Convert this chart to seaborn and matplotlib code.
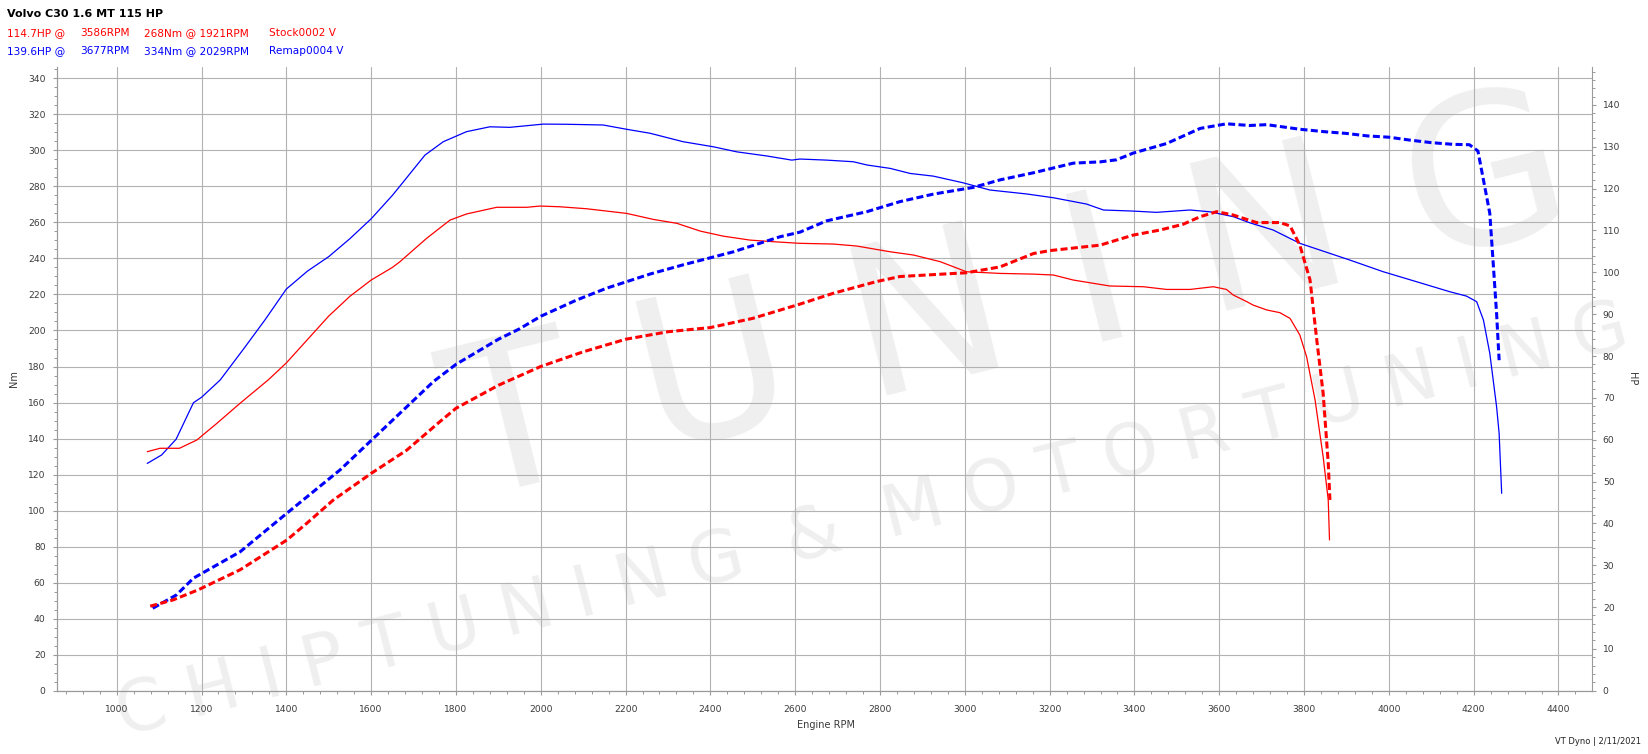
import matplotlib
matplotlib.use("Agg")
import matplotlib.pyplot as plt
import seaborn as sns
import pandas as pd
from matplotlib.ticker import MultipleLocator

# ---------------- data ----------------
stock_tq_rpm = [1072, 1102, 1148, 1189, 1236, 1291, 1357, 1400, 1450, 1500, 1550, 1600, 1650, 1668,
                1731, 1786, 1825, 1896, 1967, 1998, 2045, 2108, 2203, 2265, 2321, 2376, 2430, 2493,
                2548, 2611, 2690, 2745, 2824, 2879, 2942, 3004, 3083, 3162, 3209, 3256, 3342, 3421,
                3476, 3531, 3586, 3617, 3633, 3665, 3680, 3712, 3743, 3767, 3790, 3806, 3826, 3845,
                3857, 3860]
stock_tq_nm = [132.7, 134.6, 134.6, 139.2, 148.4, 159.6, 172.5, 182, 195, 208, 219, 228, 235, 238.2,
               251.2, 261.3, 264.7, 268.4, 268.4, 269.1, 268.7, 267.6, 265.0, 261.7, 259.5, 255.2, 252.4, 250.2,
               249.3, 248.4, 248.0, 246.9, 243.7, 241.9, 238.2, 232.6, 231.7, 231.3, 230.8, 228.0, 224.7, 224.3,
               222.8, 222.8, 224.3, 222.8, 219.7, 216.0, 214.1, 211.4, 209.9, 206.7, 197.5, 185.4, 161.4, 129.9,
               105.9, 83.7]

remap_tq_rpm = [1072, 1106, 1140, 1181, 1200, 1244, 1300, 1350, 1400, 1450, 1500, 1550, 1600, 1650,
                1668, 1727, 1770, 1825, 1880, 1927, 2006, 2061, 2147, 2203, 2258, 2336, 2407, 2462,
                2533, 2592, 2611, 2674, 2737, 2769, 2824, 2871, 2926, 2996, 3059, 3146, 3209, 3287,
                3327, 3397, 3452, 3531, 3578, 3633, 3672, 3727, 3790, 3908, 3987, 4065, 4144, 4183,
                4207, 4223, 4238, 4254, 4260, 4266]
remap_tq_nm = [126.2, 130.9, 139.6, 159.9, 162.9, 172.5, 190, 206, 223, 233, 241, 251, 262, 275,
               280.2, 297.4, 304.8, 310.4, 313.1, 312.8, 314.6, 314.5, 314.1, 311.7, 309.5, 304.8, 302.0, 299.2,
               296.9, 294.6, 295.2, 294.6, 293.7, 291.9, 290.0, 287.2, 285.7, 282.0, 278.0, 275.8, 273.7, 270.2,
               266.9, 266.3, 265.6, 266.9, 265.9, 263.2, 259.8, 255.8, 248.4, 239.1, 232.6, 227.1, 221.5, 219.1,
               216.0, 205.8, 187.3, 157.7, 142.9, 109.6]

stock_hp_rpm = [1079, 1133, 1192, 1291, 1401, 1448, 1511, 1601, 1684, 1762, 1800, 1900, 2000, 2100,
                2200, 2300, 2400, 2500, 2611, 2690, 2792, 2847, 3004, 3083, 3162, 3201, 3319, 3397,
                3460, 3515, 3555, 3594, 3633, 3688, 3743, 3767, 3790, 3814, 3830, 3845, 3857, 3861]
stock_hp = [20.2, 21.7, 24.1, 28.9, 36.0, 40.0, 45.6, 52.0, 57.5, 64.3, 67.5, 73.0, 77.5, 81.0,
            84.0, 85.8, 86.8, 89.0, 92.4, 95.0, 97.8, 99.0, 99.9, 101.3, 104.5, 105.2, 106.5, 108.9,
            110.1, 111.5, 113.3, 114.5, 113.7, 111.9, 111.9, 111.1, 106.5, 98.2, 83.8, 71.1, 54.4, 45.6]

remap_hp_rpm = [1085, 1141, 1181, 1291, 1401, 1527, 1601, 1747, 1800, 1850, 1900, 1950, 2000, 2085,
                2155, 2258, 2336, 2454, 2564, 2611, 2674, 2769, 2847, 2926, 3020, 3083, 3162, 3256,
                3319, 3358, 3397, 3476, 3555, 3617, 3672, 3712, 3790, 3850, 3900, 3950, 4000, 4050,
                4100, 4150, 4190, 4210, 4223, 4238, 4246, 4254, 4260]
remap_hp = [19.7, 22.9, 26.9, 33.2, 42.4, 52.8, 59.9, 73.9, 78.0, 81.0, 84.0, 86.5, 89.5, 93.4,
            96.2, 99.6, 101.8, 104.9, 108.5, 109.6, 112.3, 114.5, 116.9, 118.7, 120.3, 122.1, 123.8, 126.1,
            126.4, 126.9, 128.5, 130.8, 134.4, 135.5, 135.1, 135.3, 134.2, 133.6, 133.2, 132.6, 132.3, 131.6,
            131.0, 130.6, 130.5, 129.0, 122.1, 114.1, 102.2, 90.2, 79.0]

title = "Volvo C30 1.6 MT 115 HP"
stock_info = ["114.7HP @", "3586RPM", "268Nm @ 1921RPM", "Stock0002 V"]
remap_info = ["139.6HP @", "3677RPM", "334Nm @ 2029RPM", "Remap0004 V"]
x_ticks = list(range(1000, 4401, 200))
nm_ticks = list(range(0, 341, 20))
hp_ticks = list(range(0, 141, 10))

# ---------------- styling ----------------
sns.set_theme(style="white")
plt.rcParams['font.family'] = ['DejaVu Sans']

W, H = 1648, 754
fig = plt.figure(figsize=(W / 100, H / 100), dpi=100)
fig.patch.set_facecolor('white')
L, R, B, T = 56.7, 1591.7, 690.7, 67.0
ax = fig.add_axes([L / W, 1 - B / H, (R - L) / W, (B - T) / H])
ax2 = ax.twinx()

RED, BLUE = '#ff0000', '#0000ff'
GRID = '#b2b2b2'
SPINE = '#9a9a9a'
TXT = '#3a3a3a'

# watermark (very light)
wm = '#efefef'
ax.text(1010 / W, 1 - 305 / H, "T U N I N G", transform=fig.transFigure, fontsize=150,
        fontweight='normal', color=wm, rotation=14, ha='center', va='center', zorder=0.1)
ax.text(872 / W, 1 - 522 / H, "C H I P T U N I N G  &  M O T O R T U N I N G", transform=fig.transFigure,
        fontsize=51, color=wm, rotation=14.5, ha='center', va='center', zorder=0.1)

df_st = pd.DataFrame({'rpm': stock_tq_rpm, 'val': stock_tq_nm})
df_rt = pd.DataFrame({'rpm': remap_tq_rpm, 'val': remap_tq_nm})
df_sh = pd.DataFrame({'rpm': stock_hp_rpm, 'val': stock_hp})
df_rh = pd.DataFrame({'rpm': remap_hp_rpm, 'val': remap_hp})

sns.lineplot(data=df_rt, x='rpm', y='val', ax=ax, color=BLUE, linewidth=0.9,
             estimator=None, sort=False, legend=False, zorder=3)
sns.lineplot(data=df_st, x='rpm', y='val', ax=ax, color=RED, linewidth=0.9,
             estimator=None, sort=False, legend=False, zorder=3)
sns.lineplot(data=df_rh, x='rpm', y='val', ax=ax2, color=BLUE, linewidth=2.2,
             estimator=None, sort=False, legend=False, zorder=3)
sns.lineplot(data=df_sh, x='rpm', y='val', ax=ax2, color=RED, linewidth=2.2,
             estimator=None, sort=False, legend=False, zorder=3)
for ln in ax2.get_lines():
    ln.set_dashes((2.3, 1.1))

ax.set_xlim(858.5, 4478.3)
ax.set_ylim(0, 346.3)
ax2.set_ylim(0, 149.08)

ax.set_xticks(x_ticks)
ax.set_xticklabels([str(v) for v in x_ticks])
ax.xaxis.set_minor_locator(MultipleLocator(40))
ax.set_yticks(nm_ticks)
ax.set_yticklabels([str(v) for v in nm_ticks])
ax.yaxis.set_minor_locator(MultipleLocator(5))
ax2.set_yticks(hp_ticks)
ax2.set_yticklabels([str(v) for v in hp_ticks])
ax2.yaxis.set_minor_locator(MultipleLocator(2))

ax.set_axisbelow(True)
ax.grid(True, which='major', color=GRID, linewidth=0.8)
ax2.grid(False)
ax.set_xlabel("")
ax.set_ylabel("")
ax2.set_ylabel("")

for a in (ax, ax2):
    for s in a.spines.values():
        s.set_color(SPINE)
        s.set_linewidth(0.8)
ax.spines['top'].set_visible(False)
ax2.spines['top'].set_visible(False)
ax.spines['right'].set_visible(False)

ax.tick_params(axis='x', which='major', direction='out', length=3, width=0.8, color=SPINE,
               labelsize=6.6, labelcolor=TXT, pad=7, bottom=True)
ax.tick_params(axis='x', which='minor', direction='out', length=2, width=0.7, color=SPINE, bottom=True)
ax.tick_params(axis='y', which='major', direction='out', length=3, width=0.8, color=SPINE,
               labelsize=6.6, labelcolor=TXT, pad=5, left=True)
ax.tick_params(axis='y', which='minor', direction='out', length=2, width=0.7, color=SPINE, left=True)
ax2.tick_params(axis='y', which='major', direction='out', length=3, width=0.8, color=SPINE,
                labelsize=6.6, labelcolor=TXT, pad=5, right=True)
ax2.tick_params(axis='y', which='minor', direction='out', length=2, width=0.7, color=SPINE, right=True)

# axis titles
fig.text(826 / W, 1 - 725 / H, "Engine RPM", fontsize=7, color=TXT, ha='center', va='center')
fig.text(14 / W, 1 - 379 / H, "Nm", fontsize=7, color=TXT, ha='center', va='center', rotation=90)
fig.text(1632 / W, 1 - 379 / H, "HP", fontsize=7, color=TXT, ha='center', va='center', rotation=270)
fig.text(1641 / W, 1 - 741 / H, "VT Dyno | 2/11/2021", fontsize=6, color='#222222', ha='right', va='center')

# header
fig.text(7 / W, 1 - 14 / H, title, fontsize=8, fontweight='bold', color='black', ha='left', va='center')
cols = [7, 80, 144, 269]
for xs, s in zip(cols, stock_info):
    fig.text(xs / W, 1 - 33 / H, s, fontsize=7.6, color=RED, ha='left', va='center')
for xs, s in zip(cols, remap_info):
    fig.text(xs / W, 1 - 51 / H, s, fontsize=7.6, color=BLUE, ha='left', va='center')

fig.savefig("out.png", dpi=100, facecolor='white')
